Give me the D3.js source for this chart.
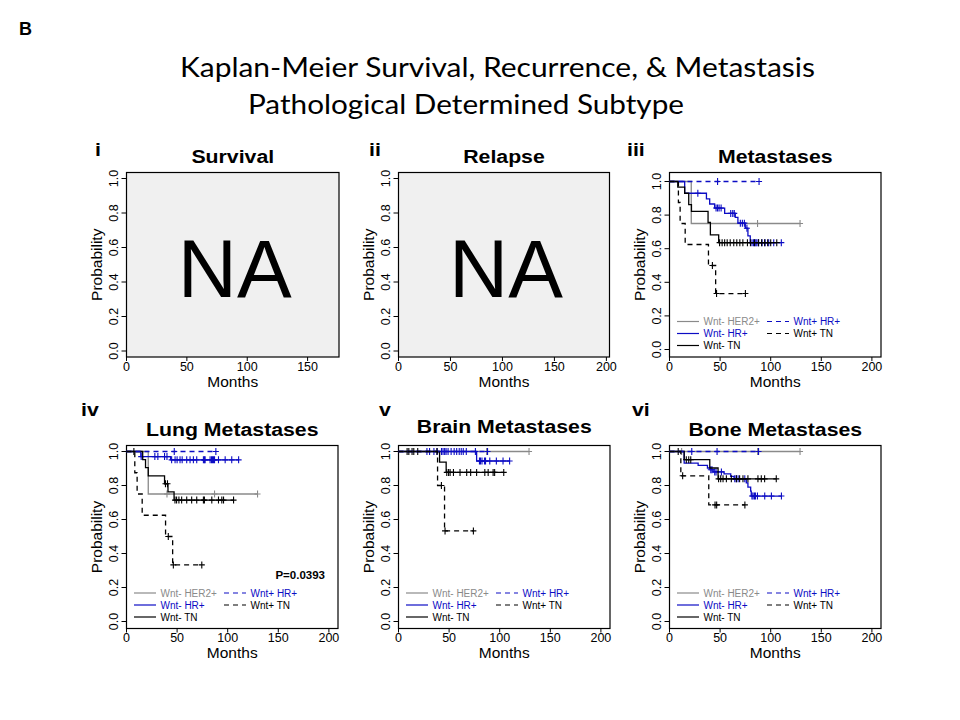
<!DOCTYPE html>
<html>
<head>
<meta charset="utf-8">
<script src="https://cdn.jsdelivr.net/npm/d3@7"></script>
<style>
    body { margin: 0; background: #fff; }
    svg { display: block; font-family: "Liberation Sans", Arial, sans-serif; }
</style>
</head>
<body>
<svg id="chart" width="960" height="720"></svg>
<script>
// ---- data (months, survival probability) ----
const groups = ["Wnt- HER2+", "Wnt- HR+", "Wnt- TN", "Wnt+ HR+", "Wnt+ TN"];
const xTicksShort = [0, 50, 100, 150];
const xTicksLong = [0, 50, 100, 150, 200];
const yTicks = [0, 0.2, 0.4, 0.6, 0.8, 1.0];

// iii Metastases
const metHer2Steps = [[0, 1], [21.5, 0.75]];
const metHer2Cens = [87, 129];
const metHrSteps = [[0, 1], [15, 0.93], [36.5, 0.896], [39.7, 0.866], [44.6, 0.842], [54.5, 0.81], [65, 0.786], [67.6, 0.752], [74.9, 0.722], [77.5, 0.676], [79.8, 0.636]];
const metHrCens = [28, 46, 47.5, 49, 51, 60.5, 62.5, 64, 70, 72, 74, 76.5, 81.5, 83, 84.5, 85.5, 86.5, 88, 91.5, 94.5, 98, 103, 110.5];
const metTnSteps = [[0, 1], [8.2, 0.966], [15, 0.93], [19, 0.862], [21.7, 0.822], [38.1, 0.756], [40.4, 0.682], [48.6, 0.636]];
const metTnCens = [49.5, 52, 54.5, 57, 60, 63.5, 66.5, 69.5, 72.5, 77, 80, 84, 88, 91, 94, 97, 100, 106];
const metWpHrSteps = [[0, 1]];
const metWpHrCens = [47.5, 88.5];
const metWpTnSteps = [[0, 1], [8.8, 0.875], [10.5, 0.75], [15.5, 0.625], [38.5, 0.5], [45.6, 0.333]];
const metWpTnCens = [42.4, 46.5, 75];

// iv Lung Metastases
const lungHer2Steps = [[0, 1], [21.5, 0.75]];
const lungHer2Cens = [40, 87, 129.5];
const lungHrSteps = [[0, 1], [14.2, 0.97], [43.6, 0.951]];
const lungHrCens = [14.5, 28, 31, 37.6, 40, 44.6, 48, 50, 52.9, 55, 59.5, 62.8, 66.1, 69.4, 76, 77, 77.7, 82.6, 84, 85, 86, 87, 90.9, 97.5, 104, 110.8];
const lungTnSteps = [[0, 1], [16, 0.952], [18.8, 0.905], [21.5, 0.857], [37.6, 0.81], [41, 0.762], [47, 0.714]];
const lungTnCens = [7.3, 38.5, 40.5, 47.9, 49.5, 51.8, 54.5, 59.5, 64.4, 69.4, 76, 77, 84.3, 90.9, 94.2, 95.9, 105.8];
const lungWpHrSteps = [[0, 1]];
const lungWpHrCens = [47.2, 88.3];
const lungWpTnSteps = [[0, 1], [8.2, 0.875], [10.5, 0.75], [15.5, 0.625], [38.6, 0.5], [45.6, 0.333]];
const lungWpTnCens = [41.3, 46.3, 74.4];

// v Brain Metastases
const brainHer2Steps = [[0, 1]];
const brainHer2Cens = [87, 129];
const brainHrSteps = [[0, 1], [77.2, 0.944]];
const brainHrCens = [28.1, 30.7, 35, 38.2, 42.5, 44, 45.6, 49, 52, 55, 57.5, 60, 62, 64, 67, 76, 80, 81, 82.5, 85, 86, 90.2, 96.7, 103.3, 109.8];
const brainTnSteps = [[0, 1], [40.6, 0.938], [47.1, 0.877]];
const brainTnCens = [8.5, 10.2, 13.4, 15.1, 19, 38, 47.7, 49.5, 51, 54.3, 60.8, 67.4, 71.3, 77.2, 85.3, 88.6, 93.5, 95, 104];
const brainWpHrSteps = [[0, 1]];
const brainWpHrCens = [47, 88];
const brainWpTnSteps = [[0, 1], [38.6, 0.8], [45.5, 0.533]];
const brainWpTnCens = [42.4, 46, 74];

// vi Bone Metastases
const boneHer2Steps = [[0, 1]];
const boneHer2Cens = [12, 87, 129];
const boneHrSteps = [[0, 1], [14.5, 0.932], [28.3, 0.918], [37.5, 0.903], [40.8, 0.893], [43.1, 0.88], [53.9, 0.868], [60.5, 0.854], [63.8, 0.839], [75.9, 0.816], [77.5, 0.79], [80.2, 0.767], [80.8, 0.738]];
const boneHrCens = [40.8, 42, 44.7, 46, 51.3, 64.5, 66, 67.8, 74.4, 81.5, 82.6, 84, 84.9, 86.9, 94.1, 100.7, 110.6];
const boneTnSteps = [[0, 1], [14.5, 0.952], [39.8, 0.903], [48, 0.839]];
const boneTnCens = [8.6, 16.6, 19, 21, 48.5, 50.6, 52.9, 56.2, 61.1, 66.1, 69.3, 72.6, 77.5, 87.4, 90.7, 94, 105.5];
const boneWpHrSteps = [[0, 1]];
const boneWpHrCens = [22, 47, 88];
const boneWpTnSteps = [[0, 1], [11.2, 0.857], [38.8, 0.686]];
const boneWpTnCens = [13, 45, 46.6, 74.5];

// ---- styles ----
const groupColor = ["#8a8a8a", "#0c0cc4", "#000000", "#0c0cc4", "#000000"];
const groupDash = [null, null, null, "5,4", "5,4"];

const colLeft = [126.5, 398.5, 669.5];
const rowTop = [172.5, 445.5];
const rowHeight = [184.5, 183];
const rowNumY = [155.5, 415.5];

const panels = [
    {num: "i", numX: 95, title: "Survival", col: 0, row: 0, w: 212.5, xMax: 176, xTicks: xTicksShort, y0: 351, y1: 178.5, na: true},
    {num: "ii", numX: 369, title: "Relapse", col: 1, row: 0, w: 211, xMax: 203, xTicks: xTicksLong, y0: 351, y1: 178.5, na: true},
    {num: "iii", numX: 627, title: "Metastases", col: 2, row: 0, w: 211.5, xMax: 209, xTicks: xTicksLong, y0: 349.5, y1: 181.5,
        steps: [metHer2Steps, metHrSteps, metTnSteps, metWpHrSteps, metWpTnSteps],
        cens: [metHer2Cens, metHrCens, metTnCens, metWpHrCens, metWpTnCens]},
    {num: "iv", numX: 81, title: "Lung Metastases", col: 0, row: 1, w: 211.5, xMax: 209, xTicks: xTicksLong, y0: 621.5, y1: 451.5,
        steps: [lungHer2Steps, lungHrSteps, lungTnSteps, lungWpHrSteps, lungWpTnSteps],
        cens: [lungHer2Cens, lungHrCens, lungTnCens, lungWpHrCens, lungWpTnCens], pValue: "P=0.0393"},
    {num: "v", numX: 379, title: "Brain Metastases", col: 1, row: 1, w: 211.5, xMax: 209, xTicks: xTicksLong, y0: 621.5, y1: 451.5, titleY: -2.5,
        steps: [brainHer2Steps, brainHrSteps, brainTnSteps, brainWpHrSteps, brainWpTnSteps],
        cens: [brainHer2Cens, brainHrCens, brainTnCens, brainWpHrCens, brainWpTnCens]},
    {num: "vi", numX: 632, title: "Bone Metastases", col: 2, row: 1, w: 211.5, xMax: 209, xTicks: xTicksLong, y0: 621.5, y1: 451.5,
        steps: [boneHer2Steps, boneHrSteps, boneTnSteps, boneWpHrSteps, boneWpTnSteps],
        cens: [boneHer2Cens, boneHrCens, boneTnCens, boneWpHrCens, boneWpTnCens]}
];

const svg = d3.select("#chart");

// figure letter and main title
svg.append("text")
    .attr("x", 19).attr("y", 35)
    .style("font-weight", "bold").style("font-size", "18px")
    .text("B");

svg.append("text")
    .attr("x", 180).attr("y", 77)
    .attr("textLength", 635).attr("lengthAdjust", "spacingAndGlyphs")
    .style("font-family", "Lato, 'Open Sans', sans-serif").style("font-size", "27px")
    .text("Kaplan-Meier Survival, Recurrence, & Metastasis");

svg.append("text")
    .attr("x", 248).attr("y", 114)
    .attr("textLength", 436).attr("lengthAdjust", "spacingAndGlyphs")
    .style("font-family", "Lato, 'Open Sans', sans-serif").style("font-size", "27px")
    .text("Pathological Determined Subtype");

// survival value at time t for a step curve
function survAt(steps, t) {
    let s = steps[0][1];
    steps.forEach(d => { if (d[0] <= t) s = d[1]; });
    return s;
}

panels.forEach(p => {
    let left = colLeft[p.col];
    let top = rowTop[p.row];
    let h = rowHeight[p.row];
    let bottom = top + h;
    let cx = left + p.w / 2;

    let x = d3.scaleLinear().domain([0, p.xMax]).range([left, left + p.w]);
    let y = d3.scaleLinear().domain([0, 1]).range([p.y0, p.y1]);

    let g = svg.append("g");

    // panel numeral + title
    g.append("text")
        .attr("transform", `translate(${p.numX}, ${rowNumY[p.row]}) scale(1.12, 1)`)
        .style("font-weight", "bold").style("font-size", "19px")
        .text(p.num);

    g.append("text")
        .attr("transform", `translate(${cx}, ${top - 10 + (p.titleY || 0)}) scale(1.12, 1)`)
        .attr("text-anchor", "middle")
        .style("font-weight", "bold").style("font-size", "19px")
        .text(p.title);

    // plot box
    g.append("rect")
        .attr("x", left).attr("y", top)
        .attr("width", p.w).attr("height", h)
        .attr("fill", p.na ? "#f0f0f0" : "#fff")
        .attr("stroke", "#000").attr("stroke-width", 1.2);

    // y axis
    g.selectAll(".ytick").data(yTicks).enter().append("line")
        .attr("x1", left - 5).attr("x2", left)
        .attr("y1", d => y(d)).attr("y2", d => y(d))
        .attr("stroke", "#000");
    g.selectAll(".ylab").data(yTicks).enter().append("text")
        .attr("transform", d => `translate(${left - 8.5}, ${y(d)}) rotate(-90)`)
        .attr("text-anchor", "middle")
        .style("font-size", "12.5px")
        .text(d => d.toFixed(1));
    g.append("text")
        .attr("transform", `translate(${left - 24.5}, ${top + h / 2}) rotate(-90)`)
        .attr("text-anchor", "middle")
        .style("font-size", "15.5px")
        .text("Probability");

    // x axis
    g.selectAll(".xtick").data(p.xTicks).enter().append("line")
        .attr("x1", d => x(d)).attr("x2", d => x(d))
        .attr("y1", bottom).attr("y2", bottom + 4)
        .attr("stroke", "#000");
    g.selectAll(".xlab").data(p.xTicks).enter().append("text")
        .attr("x", d => x(d)).attr("y", bottom + 13.5)
        .attr("text-anchor", "middle")
        .style("font-size", "12.5px")
        .text(d => d);
    g.append("text")
        .attr("x", cx).attr("y", bottom + 29.5)
        .attr("text-anchor", "middle")
        .style("font-size", "15.5px")
        .text("Months");

    if (p.na) {
        g.append("text")
            .attr("x", cx + 2).attr("y", top + 124)
            .attr("text-anchor", "middle")
            .style("font-size", "82px")
            .text("NA");
        return;
    }

    // KM curves
    let line = d3.line()
        .x(d => x(d[0])).y(d => y(d[1]))
        .curve(d3.curveStepAfter);

    p.steps.forEach((steps, i) => {
        let last = steps[steps.length - 1];
        let tEnd = Math.max(last[0], d3.max(p.cens[i]));
        let pts = steps.concat([[tEnd, last[1]]]);

        g.append("path")
            .attr("d", line(pts))
            .attr("fill", "none")
            .attr("stroke", groupColor[i])
            .attr("stroke-width", 1.3)
            .attr("stroke-dasharray", groupDash[i]);

        g.selectAll(".cens" + i).data(p.cens[i]).enter().append("path")
            .attr("d", t => {
                let cxp = x(t), cyp = y(survAt(steps, t));
                return `M${cxp - 3},${cyp}H${cxp + 3}M${cxp},${cyp - 3.5}V${cyp + 3.5}`;
            })
            .attr("stroke", groupColor[i])
            .attr("stroke-width", 1.1)
            .attr("fill", "none");
    });

    // legend
    groups.forEach((name, i) => {
        let col = i < 3 ? 0 : 1;
        let row = i < 3 ? i : i - 3;
        let ly = bottom - 35.5 + row * 12;
        let lx = left + (col === 0 ? 7.5 : 97.5);
        g.append("line")
            .attr("x1", lx).attr("x2", lx + 22)
            .attr("y1", ly).attr("y2", ly)
            .attr("stroke", groupColor[i])
            .attr("stroke-width", 1.2)
            .attr("stroke-dasharray", groupDash[i]);
        g.append("text")
            .attr("x", lx + 26.5).attr("y", ly + 3.5)
            .attr("fill", groupColor[i])
            .style("font-size", "10px")
            .text(name);
    });

    if (p.pValue) {
        g.append("text")
            .attr("x", left + p.w - 13).attr("y", bottom - 50)
            .attr("text-anchor", "end")
            .style("font-weight", "bold").style("font-size", "11.5px")
            .text(p.pValue);
    }
});
</script>
</body>
</html>
